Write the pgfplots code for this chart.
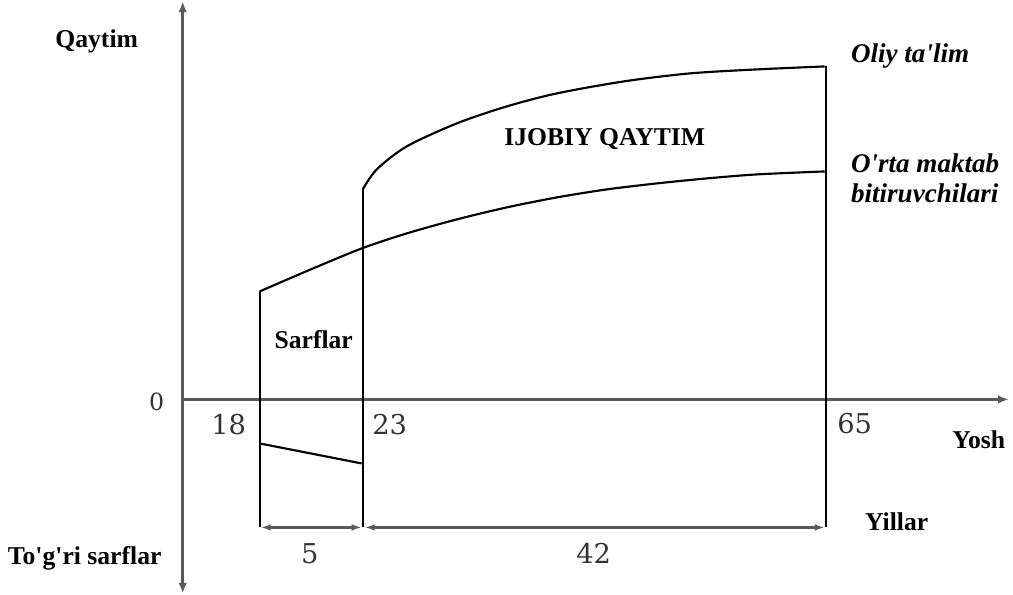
\documentclass[border=0pt]{standalone}
\usepackage{pgfplots}
\pgfplotsset{compat=1.18}
\usetikzlibrary{arrows.meta}
\usepackage{fontspec}
\setmainfont{Liberation Serif}
\newfontfamily\numfont{DejaVu Serif}
\newcommand{\q}{\textquotesingle}

\begin{document}
\begin{tikzpicture}
\begin{axis}[width=15cm,height=9.003cm,scale only axis,hide axis,
  xmin=0,xmax=1013,ymin=0,ymax=608,clip=false]
% axes (page pixels, y measured upwards)
\addplot[gray!70!black,line width=1.2pt,{Latex[length=4.5pt,width=3.6pt]}-{Latex[length=4.5pt,width=3.6pt]}]
  coordinates {(186,1) (186,593)};
\addplot[gray!70!black,line width=1.2pt,-{Latex[length=4.5pt,width=3.6pt]}]
  coordinates {(186,195) (1012,195)};
% O'rta maktab
\addplot[black,line width=0.9pt] coordinates {(263,67) (263,303)};
\addplot[black,line width=0.9pt,smooth] coordinates
  {(263,303) (314,325) (365,346) (410,361) (460,375) (510,387) (560,397) (610,405) (660,411) (710,416) (760,420) (828,423)};
% Oliy ta'lim
\addplot[black,line width=0.9pt] coordinates {(366,67) (366,405)};
\addplot[black,line width=0.9pt,smooth] coordinates
  {(366,405) (380,425) (410,448) (460,471) (510,488) (560,501) (627,513) (693,521) (760,525) (828,528)};
\addplot[black,line width=0.9pt] coordinates {(829,67) (829,528)};
% sarflar
\addplot[black,line width=0.9pt] coordinates {(263,151) (365,131)};
% yillar
\addplot[gray!70!black,line width=1.2pt,{Latex[length=4.2pt,width=2.8pt]}-{Latex[length=4.2pt,width=2.8pt]}]
  coordinates {(264,67) (365,67)};
\addplot[gray!70!black,line width=1.2pt,{Latex[length=4.2pt,width=2.8pt]}-{Latex[length=4.2pt,width=2.8pt]}]
  coordinates {(368,67) (828,67)};
% labels
\begin{scope}[font=\fontsize{10.8}{12}\selectfont\bfseries]
\node at (axis cs:100,553) {Qaytim};
\node at (axis cs:88,36) {To\q g\q ri sarflar};
\node at (axis cs:317,255) {Sarflar};
\node at (axis cs:608,455) {IJOBIY QAYTIM};
\node at (axis cs:982,155) {Yosh};
\node at (axis cs:900,73) {Yillar};
\end{scope}
\begin{scope}[font=\fontsize{11.4}{12}\selectfont\bfseries\itshape]
\node[anchor=west] at (axis cs:846,538) {Oliy ta\q lim};
\node[anchor=west] at (axis cs:846,431) {O\q rta maktab};
\node[anchor=west] at (axis cs:846,401) {bitiruvchilari};
\end{scope}
\begin{scope}[font=\fontsize{11.5}{12}\selectfont\numfont,text=black!80]
\node at (axis cs:232,170) {18};
\node at (axis cs:393,170) {23};
\node at (axis cs:858,171) {65};
\node at (axis cs:313,41) {5};
\node at (axis cs:597,41) {42};
\node[font=\fontsize{10}{12}\selectfont\numfont] at (axis cs:160,193) {0};
\end{scope}
\end{axis}
\end{tikzpicture}
\end{document}
